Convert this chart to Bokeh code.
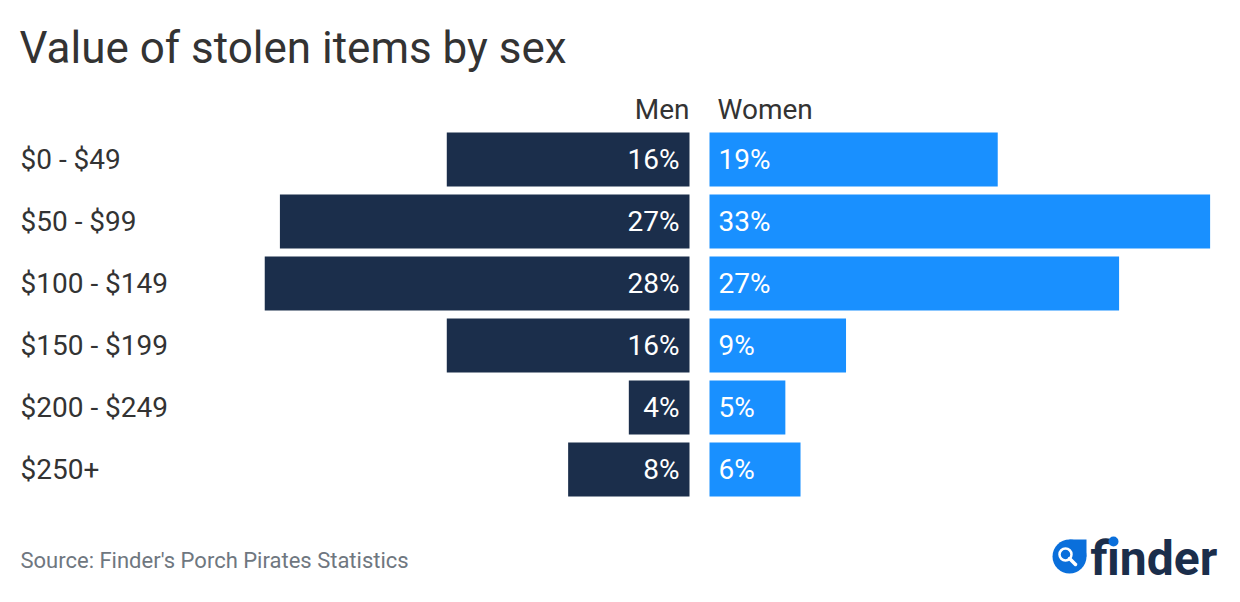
from bokeh.plotting import figure
from bokeh.models import ColumnDataSource, Range1d
from bokeh.core.properties import value
from bokeh.embed import file_html
from bokeh.resources import INLINE

# ---- data ----
categories = ["$0 - $49", "$50 - $99", "$100 - $149", "$150 - $199", "$200 - $249", "$250+"]
men = [16, 27, 28, 16, 4, 8]
women = [19, 33, 27, 9, 5, 6]
series_names = ["Men", "Women"]
title_text = "Value of stolen items by sex"
source_text = "Source: Finder's Porch Pirates Statistics"

# ---- layout helpers (screen px of 1240x602 shot -> data) ----
W, H = 1224, 586
OFFX, OFFY = 1, 0
PX_PER_PCT = 15.17
CENTER_PX = 700
ROW0_PX, ROW_PX = 159, 62

def xd(px):
    return (px - CENTER_PX) / PX_PER_PCT

def yd(py):
    return (py - ROW0_PX) / ROW_PX

MEN_C = "#1B2E4B"
WOMEN_C = "#1990FF"
TXT_C = "#333333"
FONT = value("Roboto")

p = figure(width=W, height=H, output_backend="svg", toolbar_location=None,
           x_axis_location=None, y_axis_location=None, min_border=0,
           x_range=Range1d(xd(OFFX), xd(OFFX + W)), y_range=Range1d(yd(OFFY + H), yd(OFFY)),
           outline_line_color=None, background_fill_color="white",
           border_fill_color="white")
p.grid.visible = False

rows = list(range(len(categories)))
gap = 10 / PX_PER_PCT
pad = 10 / PX_PER_PCT
src = ColumnDataSource(dict(
    y=rows,
    cat=categories,
    men_left=[-gap - v for v in men],
    men_right=[-gap] * len(men),
    women_left=[gap] * len(women),
    women_right=[gap + v for v in women],
    men_lab=[f"{v}%" for v in men],
    women_lab=[f"{v}%" for v in women],
))
bh = 54 / ROW_PX
p.hbar(y="y", left="men_left", right="men_right", height=bh, source=src,
       fill_color=MEN_C, line_color=None)
p.hbar(y="y", left="women_left", right="women_right", height=bh, source=src,
       fill_color=WOMEN_C, line_color=None)

# value labels
p.text(x=-gap - pad, y="y", text="men_lab", source=src, text_font=FONT,
       text_font_size="28px", text_color="white", text_align="right",
       text_baseline="middle")
p.text(x=gap + 9 / PX_PER_PCT, y="y", text="women_lab", source=src, text_font=FONT,
       text_font_size="28px", text_color="white", text_align="left",
       text_baseline="middle")

# category labels
p.text(x=xd(21), y="y", text="cat", source=src, text_font=FONT,
       text_font_size="28px", text_color=TXT_C, text_align="left",
       text_baseline="middle")

# series headers
p.text(x=[-gap, gap + 8 / PX_PER_PCT], y=[yd(108.5), yd(108.5)], text=series_names,
       text_font=FONT, text_font_size="28px", text_color=TXT_C,
       text_align=["right", "left"], text_baseline="middle")

# title
p.text(x=[xd(20)], y=[yd(47)], text=[title_text], text_font=FONT,
       text_font_size="44px", text_color=TXT_C, text_align="left",
       text_baseline="middle")

# source
p.text(x=[xd(21)], y=[yd(559.5)], text=[source_text], text_font=FONT,
       text_font_size="22px", text_color="#6F7780", text_align="left",
       text_baseline="middle")

# finder logo
LOGO_BLUE = "#0A6FDB"
cx, cy = 1070, 556
p.scatter(x=[xd(cx)], y=[yd(cy)], marker="circle", size=34,
          fill_color=LOGO_BLUE, line_color=None)
p.scatter(x=[xd(cx + 8.5)], y=[yd(cy - 8.5)], marker="square", size=17,
          fill_color=LOGO_BLUE, line_color=None)
p.scatter(x=[xd(1066)], y=[yd(554)], marker="circle", size=12,
          fill_color=None, line_color="white", line_width=2.5)
p.segment(x0=[xd(1070)], y0=[yd(558)], x1=[xd(1076)], y1=[yd(564)],
          line_color="white", line_width=3.5, line_cap="round")
p.text(x=[xd(1091)], y=[yd(557.5)], text=["finder"], text_font=FONT,
       text_font_size="48px", text_font_style="bold", text_color=MEN_C,
       text_align="left", text_baseline="middle")
p.scatter(x=[xd(1114)], y=[yd(541)], marker="circle", size=10,
          fill_color=LOGO_BLUE, line_color=None)

open("out.html", "w").write(file_html(p, INLINE))
